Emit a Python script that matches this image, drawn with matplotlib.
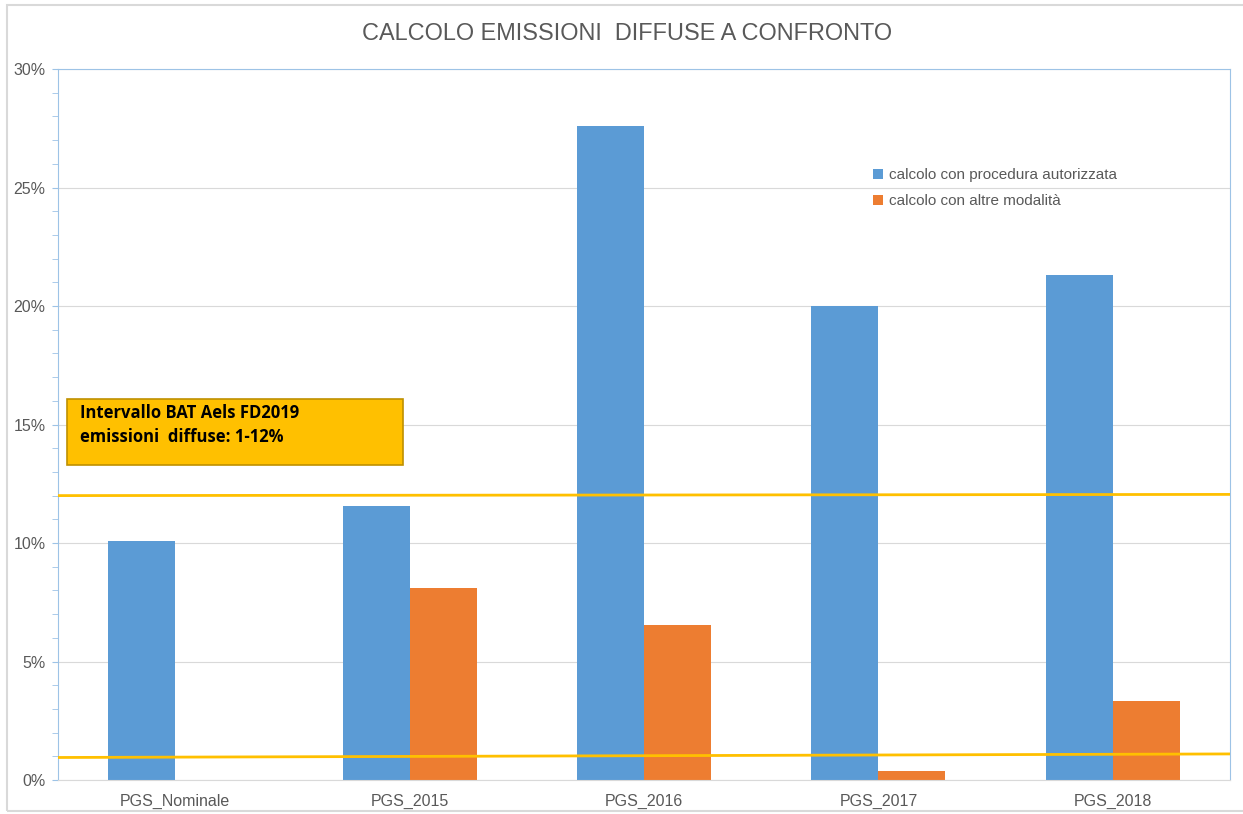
# Calcolo emissioni diffuse a confronto

import numpy as np
import matplotlib
matplotlib.use("Agg")
import matplotlib.pyplot as plt
from matplotlib.ticker import PercentFormatter, MultipleLocator
from matplotlib.patches import Rectangle

plt.rcParams['font.family'] = ['Liberation Sans', 'DejaVu Sans']

# Data (percent)
categories = ['PGS_Nominale', 'PGS_2015', 'PGS_2016', 'PGS_2017', 'PGS_2018']
autorizzata = [10.1, 11.55, 27.6, 20.0, 21.3]
altre = [0.0, 8.1, 6.55, 0.38, 3.35]
series_names = ['calcolo con procedura autorizzata', 'calcolo con altre modalità']
bat_low = [0.95, 1.1]    # lower line, slightly tilted in the original
bat_high = [12.0, 12.05]

blue = '#5B9BD5'
orange = '#ED7D31'
yellow = '#FFC000'
grey_text = '#595959'

fig = plt.figure(figsize=(12.43, 8.14), dpi=100)
ax = fig.add_axes([58/1243, 1 - 780/814, (1230 - 58)/1243, (780 - 69)/814])

x = np.arange(len(categories))
w = 0.286
ax.bar(x - w/2, autorizzata, w, color=blue, label=series_names[0], zorder=2)
ax.bar(x + w/2, altre, w, color=orange, label=series_names[1], zorder=2)

ax.set_xlim(-0.5, len(categories) - 0.5)
ax.set_ylim(0, 30)
ax.set_xticks(x)
ax.set_xticklabels(categories)
ax.yaxis.set_major_locator(MultipleLocator(5))
ax.yaxis.set_minor_locator(MultipleLocator(1))
ax.yaxis.set_major_formatter(PercentFormatter(decimals=0))
ax.grid(axis='y', color='#D9D9D9', linewidth=0.8, zorder=0)
ax.tick_params(axis='x', length=0, labelsize=11.5, labelcolor=grey_text, pad=10)
ax.tick_params(axis='y', which='major', length=4, color='#9DC3E6', labelsize=11.5,
               labelcolor=grey_text, pad=5)
ax.tick_params(axis='y', which='minor', length=4, color='#9DC3E6')

for side in ['left', 'right', 'top']:
    ax.spines[side].set_color('#9DC3E6')
ax.spines['bottom'].set_color('#D9D9D9')

# BAT range lines
xl = ax.get_xlim()
ax.plot(xl, bat_low, color=yellow, linewidth=2, zorder=3)
ax.plot(xl, bat_high, color=yellow, linewidth=2, zorder=3)

# BAT label box
ax.add_patch(Rectangle((0.0077, 0.443), 0.287, 0.093, transform=ax.transAxes,
                       facecolor=yellow, edgecolor='#BF9000', linewidth=1.2, zorder=4))
ax.text(0.019, 0.516, 'Intervallo BAT Aels FD2019', transform=ax.transAxes,
        fontsize=12, fontweight='bold', color='black', va='center', ha='left',
        zorder=5, family=['Open Sans', 'DejaVu Sans'])
ax.text(0.019, 0.482, 'emissioni  diffuse: 1-12%', transform=ax.transAxes,
        fontsize=12, fontweight='bold', color='black', va='center', ha='left',
        zorder=5, family=['Open Sans', 'DejaVu Sans'])

leg = ax.legend(loc='upper left', bbox_to_anchor=(0.684, 0.88), frameon=False,
                fontsize=11, handlelength=0.6, handleheight=0.6, handletextpad=0.4,
                labelspacing=0.8)
for t in leg.get_texts():
    t.set_color(grey_text)

fig.text(627/1243, 1 - 33/814, 'CALCOLO EMISSIONI  DIFFUSE A CONFRONTO',
         ha='center', va='center', fontsize=16.9, color=grey_text)

# outer chart border
fig.patches.append(Rectangle((7/1243, 1 - 811/814), 1.1, (811 - 5)/814,
                             transform=fig.transFigure, fill=False,
                             edgecolor='#D9D9D9', linewidth=1.5))

fig.savefig('out.png', dpi=100)
